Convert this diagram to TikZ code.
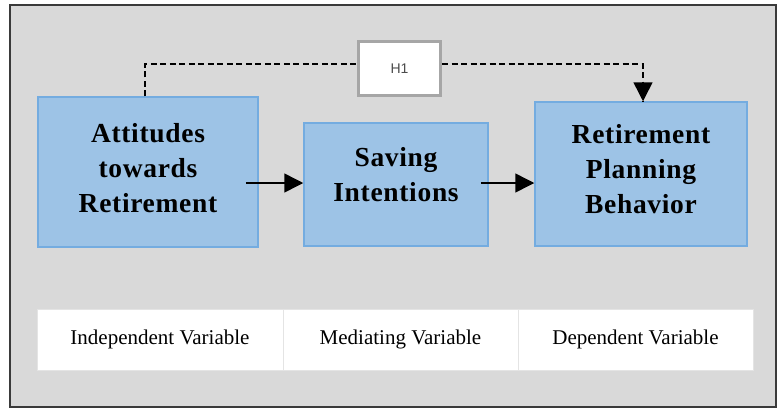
\documentclass[tikz,border=0pt]{standalone}
\usepackage{fontspec}
\setmainfont{Liberation Serif}
\setsansfont{Liberation Sans}
\newfontfamily\spacedserif[LetterSpace=2.5]{Liberation Serif}
\usetikzlibrary{arrows.meta,calc}
\definecolor{bggray}{HTML}{D9D9D9}
\definecolor{framecol}{HTML}{3A3A3A}
\definecolor{boxfill}{HTML}{9DC3E6}
\definecolor{boxline}{HTML}{74ACE0}
\definecolor{hgray}{HTML}{A6A6A6}
\definecolor{cellline}{HTML}{E4E4E4}
\begin{document}
\begin{tikzpicture}[x=1pt,y=-1pt,
  varbox/.style={draw=boxline, fill=boxfill, line width=1.5pt, inner sep=0pt},
  vartext/.style={align=center, font=\spacedserif\bfseries\fontsize{27.5}{35}\selectfont, inner sep=0pt},
  hbox/.style={draw=hgray, fill=white, line width=3pt, minimum width=82pt, minimum height=54pt, inner sep=0pt, font=\sffamily\fontsize{14}{16}\selectfont, text=black!70},
  cell/.style={draw=cellline, fill=white, line width=1pt, minimum height=61pt, inner sep=0pt, font=\fontsize{21}{24}\selectfont},
  flow/.style={line width=1.5pt, -{Triangle[length=19pt,width=19pt]}},
  hyp/.style={line width=1.3pt, dash pattern=on 6pt off 3.5pt}
]
\useasboundingbox (0,0) rectangle (778,410);
\fill[white] (0,0) rectangle (778,410);
\draw[fill=bggray, draw=framecol, line width=2pt] (10,5) rectangle (776,407);

% main boxes
\node[varbox, minimum width=220pt, minimum height=150pt] (b1) at (148,172) {};
\node[varbox, minimum width=184pt, minimum height=123pt] (b2) at (396,184.5) {};
\node[varbox, minimum width=212pt, minimum height=144pt] (b3) at (641,174) {};
\node[vartext] (l1) at (148,168) {Attitudes\\towards\\Retirement};
\node[vartext] (l2) at (396,175) {Saving\\Intentions};
\node[vartext] (l3) at (641,169) {Retirement\\Planning\\Behavior};

% hypothesis box
\node[hbox] (h1) at (399.5,68.5) {H1};

% connectors
\draw[flow] ($(b1.east)+(-13,11)$) -- ($(b2.west)+(0,-1.5)$);
\draw[flow] ($(b2.east)+(-8,-1.5)$) -- ($(b3.west)+(0,9)$);
\draw[hyp] ($(b1.north)+(-3,0)$) |- ($(h1.west)+(0,-4.5)$);
\draw[hyp] ($(h1.east)+(0,-4.5)$) -| ($(b3.north)+(2,0)$);
\draw[flow] ($(b3.north)+(2,-18)$) -- ($(b3.north)+(2,0)$);

% variable table
\node[cell, minimum width=246pt] (c1) at (160,339.5) {Independent Variable};
\node[cell, minimum width=235pt] (c2) at (400.5,339.5) {Mediating Variable};
\node[cell, minimum width=235pt] (c3) at (635.5,339.5) {Dependent Variable};
\end{tikzpicture}
\end{document}
